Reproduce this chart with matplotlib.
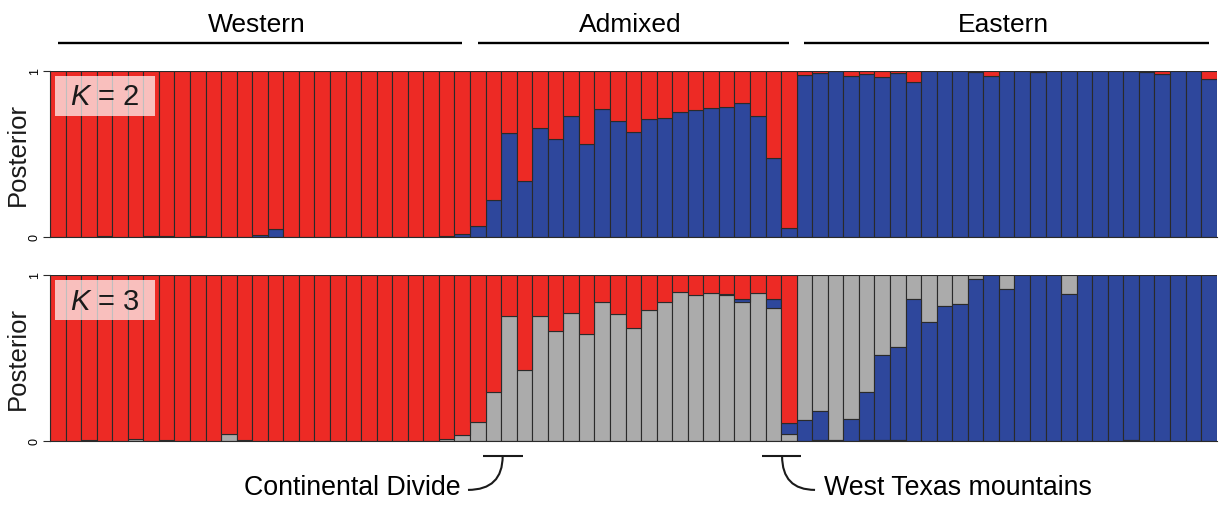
import numpy as np
import matplotlib
matplotlib.use("Agg")
import matplotlib.pyplot as plt
import matplotlib.transforms as mtransforms
from matplotlib.patches import Rectangle, PathPatch
from matplotlib.path import Path

plt.rcParams["font.family"] = ["Liberation Sans", "DejaVu Sans"]
plt.rcParams["mathtext.fontset"] = "custom"
plt.rcParams["mathtext.it"] = "Liberation Sans:italic"
plt.rcParams["mathtext.rm"] = "Liberation Sans"

# ---- data -------------------------------------------------------------
group_names = ["Western", "Admixed", "Eastern"]
group_sizes = [27, 21, 27]

# K = 2: eastern-cluster (blue) membership; western (red) is the remainder
k2_blue = [0, 0, 0, 0.005, 0, 0, 0.003, 0.003, 0, 0.004,
           0, 0, 0, 0.012, 0.045, 0, 0, 0, 0, 0,
           0, 0, 0, 0, 0, 0.005, 0.014,
           0.064, 0.219, 0.625, 0.333, 0.655, 0.586, 0.725, 0.560, 0.771, 0.697,
           0.631, 0.707, 0.713, 0.751, 0.763, 0.773, 0.781, 0.805, 0.725, 0.472, 0.050,
           0.976, 0.986, 0.998, 0.970, 0.978, 0.964, 0.986, 0.932, 1, 1,
           1, 0.990, 0.970, 1, 1, 0.993, 1, 1, 1, 1,
           1, 0.997, 0.990, 0.982, 1, 1, 0.950]

# K = 3: grey and blue membership; red is the remainder
k3_grey = [0, 0, 0.003, 0, 0, 0.010, 0, 0.003, 0, 0,
           0, 0.038, 0.002, 0, 0, 0, 0, 0, 0, 0,
           0, 0, 0, 0, 0, 0.008, 0.032,
           0.113, 0.296, 0.753, 0.429, 0.751, 0.660, 0.773, 0.644, 0.835, 0.767,
           0.678, 0.787, 0.835, 0.899, 0.877, 0.889, 0.877, 0.835, 0.893, 0.803, 0.042,
           0.877, 0.819, 0.995, 0.867, 0.706, 0.485, 0.434, 0.145, 0.286, 0.185,
           0.173, 0.024, 0.002, 0.087, 0, 0, 0, 0.115, 0, 0,
           0, 0, 0, 0, 0, 0, 0]
k3_blue = [0] * 27 + \
          [0] * 16 + [0.006, 0.022, 0, 0.050, 0.066] + \
          [0.123, 0.175, 0.005, 0.133, 0.288, 0.509, 0.563, 0.855, 0.714, 0.815,
           0.827, 0.976, 0.998, 0.913, 1, 1, 1, 0.885, 1, 1,
           1, 0.995, 1, 1, 1, 1, 1]

# bottom-to-top stacking of clusters within each region
k2_order = {"Western": ["blue", "red"], "Admixed": ["blue", "red"], "Eastern": ["blue", "red"]}
k3_order = {"Western": ["grey", "blue", "red"], "Admixed": ["grey", "blue", "red"],
            "Eastern": ["red", "blue", "grey"]}

colors = {"red": "#ED2A25", "blue": "#2E479C", "grey": "#ABABAB"}
edge = "#2a2a2a"

# ---- helpers ----------------------------------------------------------
n = sum(group_sizes)
x = np.arange(n)
region = np.repeat(group_names, group_sizes)


def draw_structure(ax, comps, order, label):
    for c in comps:
        bottom = np.zeros(n)
        for i in range(n):
            seq = order[region[i]]
            for prev in seq[:seq.index(c)]:
                bottom[i] += comps[prev][i]
        h = comps[c]
        keep = h > 0
        ax.bar(x[keep], h[keep], bottom=bottom[keep], width=1, align="edge",
               color=colors[c], edgecolor=edge, linewidth=0.8)
    ax.set_xlim(0, n)
    ax.set_ylim(0, 1)
    ax.set_xticks([])
    ax.set_yticks([0, 1])
    ax.set_yticklabels(["0", "1"], rotation=90, va="center", fontsize=9)
    ax.tick_params(axis="y", length=5, width=0.8, pad=1.5, color=edge)
    for s in ["top", "right"]:
        ax.spines[s].set_visible(False)
    for s in ["left", "bottom"]:
        ax.spines[s].set_linewidth(0.8)
        ax.spines[s].set_color(edge)
    ax.add_patch(Rectangle((0.0043, 0.727), 0.0857, 0.241, transform=ax.transAxes,
                           facecolor="white", alpha=0.7, edgecolor="none", zorder=5))
    ax.text(0.047, 0.845, label, transform=ax.transAxes, ha="center", va="center",
            fontsize=21, color="#1a1a1a", zorder=6)


fig = plt.figure(figsize=(12.25, 5.06), dpi=100)
ax1 = fig.add_axes([50 / 1225, 1 - 237.7 / 506, 1166.7 / 1225, 166 / 506])
ax2 = fig.add_axes([50 / 1225, 1 - 441.7 / 506, 1166.7 / 1225, 165.7 / 506])

b2 = np.array(k2_blue, dtype=float)
draw_structure(ax1, {"blue": b2, "red": 1 - b2}, k2_order, "$K$ = 2")

g3 = np.array(k3_grey, dtype=float)
b3 = np.array(k3_blue, dtype=float)
r3 = np.clip(1 - g3 - b3, 0, None)
draw_structure(ax2, {"grey": g3, "blue": b3, "red": r3}, k3_order, "$K$ = 3")

for ax in (ax1, ax2):
    fig.text(18 / 1225, ax.get_position().y0 + ax.get_position().height / 2, "Posterior",
             rotation=90, ha="center", va="center", fontsize=18.5, color="#1a1a1a")

# region headers
tr1 = mtransforms.blended_transform_factory(ax1.transData, ax1.transAxes)
start = 0
for name, size in zip(group_names, group_sizes):
    ax1.plot([start + 0.5, start + size - 0.5], [1.164, 1.164], transform=tr1,
             color="black", lw=1.7, clip_on=False, solid_capstyle="butt")
    ax1.text(start + size / 2 - 0.2, 1.239, name, transform=tr1, ha="center",
             va="baseline", fontsize=19, color="black")
    start += size

# geographic barriers beneath the K = 3 panel
tr2 = mtransforms.blended_transform_factory(ax2.transData, ax2.transAxes)
tick_y, curve_y, text_y = -0.092, -0.297, -0.322


def barrier(x0, x1, xc, xend, label, side):
    ax2.plot([x0, x1], [tick_y, tick_y], transform=tr2, color="#1a1a1a", lw=1.5,
             clip_on=False, solid_capstyle="butt")
    path = Path([(xc, tick_y), (xc, curve_y), (xend, curve_y)],
                [Path.MOVETO, Path.CURVE3, Path.CURVE3])
    ax2.add_patch(PathPatch(path, transform=tr2, facecolor="none", edgecolor="#1a1a1a",
                            lw=1.5, clip_on=False))
    if side == "left":
        ax2.text(xend - 0.5, text_y, label, transform=tr2, ha="right", va="baseline",
                 fontsize=19.3, color="black")
    else:
        ax2.text(xend + 0.6, text_y, label, transform=tr2, ha="left", va="baseline",
                 fontsize=19.3, color="black")


barrier(27.83, 30.4, 29.1, 26.87, "Continental Divide", "left")
barrier(45.77, 48.28, 47.06, 49.18, "West Texas mountains", "right")

fig.savefig("out.png", dpi=100, facecolor="white")
